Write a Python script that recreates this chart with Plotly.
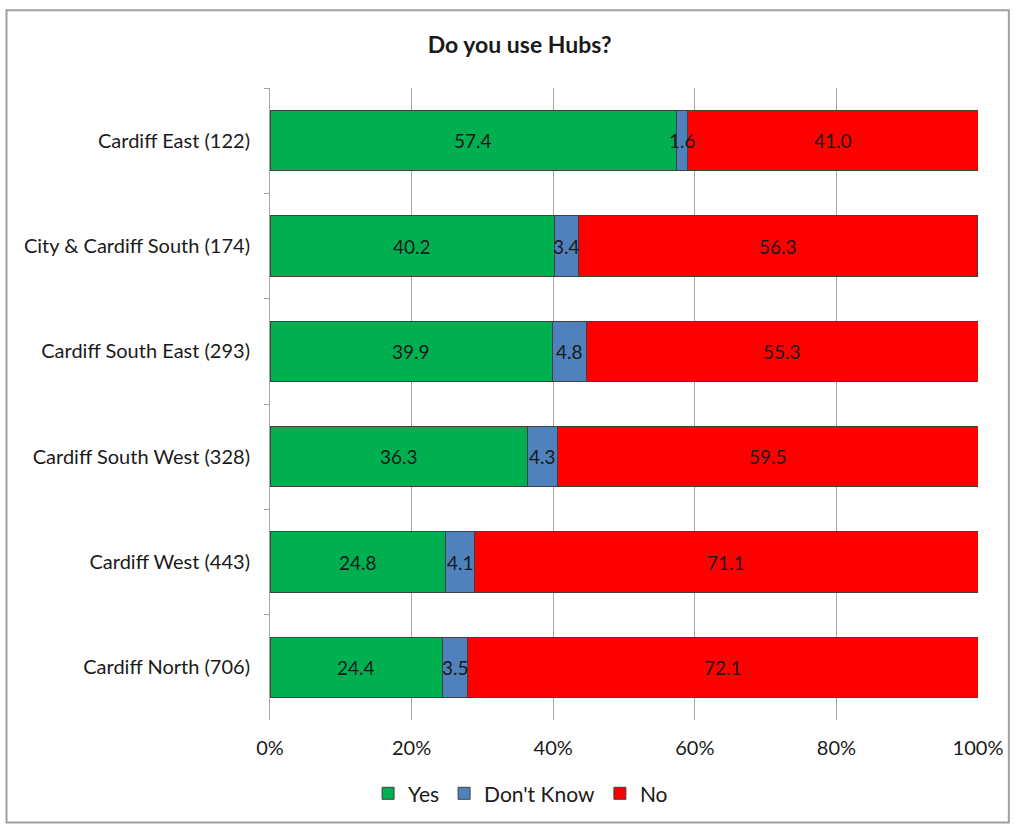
import plotly.graph_objects as go

categories = ["Cardiff East (122)", "City & Cardiff South (174)", "Cardiff South East (293)",
              "Cardiff South West (328)", "Cardiff West (443)", "Cardiff North (706)"]
yes_vals = [57.4, 40.2, 39.9, 36.3, 24.8, 24.4]
dont_know_vals = [1.6, 3.4, 4.8, 4.3, 4.1, 3.5]
no_vals = [41.0, 56.3, 55.3, 59.5, 71.1, 72.1]
x_ticks = [0, 20, 40, 60, 80, 100]
x_tick_labels = ["0%", "20%", "40%", "60%", "80%", "100%"]

FONT = "Lato, 'Open Sans', sans-serif"
TXT = "#1a1a1a"

fig = go.Figure()
series = [("Yes", yes_vals, "#00B050"), ("Don't Know", dont_know_vals, "#4F81BD"), ("No", no_vals, "#FF0000")]
starts = [0.0] * len(categories)
annotations = []
for name, vals, color in series:
    fig.add_trace(go.Bar(
        y=categories, x=vals, name=name, orientation="h",
        marker=dict(color=color, line=dict(color="#404040", width=1)),
        textposition="none",
    ))
    for i, (cat, v) in enumerate(zip(categories, vals)):
        annotations.append(dict(
            x=starts[i] + v / 2, y=cat, xref="x", yref="y",
            text=f"{v:.1f}", showarrow=False,
            font=dict(size=19, family=FONT, color=TXT),
            xanchor="center", yanchor="middle",
        ))
        starts[i] += v

PH = 826 - 88 - 103
PW = 1015 - 270 - 33

fig.update_layout(
    barmode="stack",
    bargap=0.43,
    width=1015, height=826,
    paper_bgcolor="white", plot_bgcolor="white",
    margin=dict(l=270, r=33, t=88, b=103),
    font=dict(family=FONT, size=19, color=TXT),
    title=dict(text="<b>Do you use Hubs?</b>", x=0.512, xanchor="center", y=0.945, yanchor="middle",
               font=dict(size=23, family=FONT, color=TXT)),
    legend=dict(orientation="h", x=(522 - 270) / PW, xanchor="center", y=-(797 - 723) / PH, yanchor="middle",
                font=dict(size=21, family=FONT, color=TXT), traceorder="normal",
                itemwidth=30, tracegroupgap=0),
    xaxis=dict(range=[0, 100], tickvals=x_ticks, ticktext=x_tick_labels,
               showgrid=True, gridcolor="#A6A6A6", gridwidth=1, zeroline=False,
               showline=False, ticks="", ticklabelstandoff=14,
               tickfont=dict(size=20, family=FONT, color=TXT)),
    yaxis=dict(categoryorder="array", categoryarray=categories, autorange="reversed",
               showline=True, linecolor="#A6A6A6", linewidth=1,
               ticks="outside", tickson="boundaries", ticklen=5, tickcolor="#A6A6A6",
               tickfont=dict(size=20, family=FONT, color=TXT), ticklabelstandoff=15),
    annotations=annotations,
)

fig.add_shape(type="rect", xref="paper", yref="paper",
              x0=-265 / PW, x1=1 + 31 / PW, y0=-103 / PH, y1=1 + 78 / PH,
              line=dict(color="#A0A0A0", width=2), fillcolor="rgba(0,0,0,0)", layer="below")

fig.write_html("out.html", config={"displayModeBar": False},
               post_script="document.body.style.margin='0px';")
